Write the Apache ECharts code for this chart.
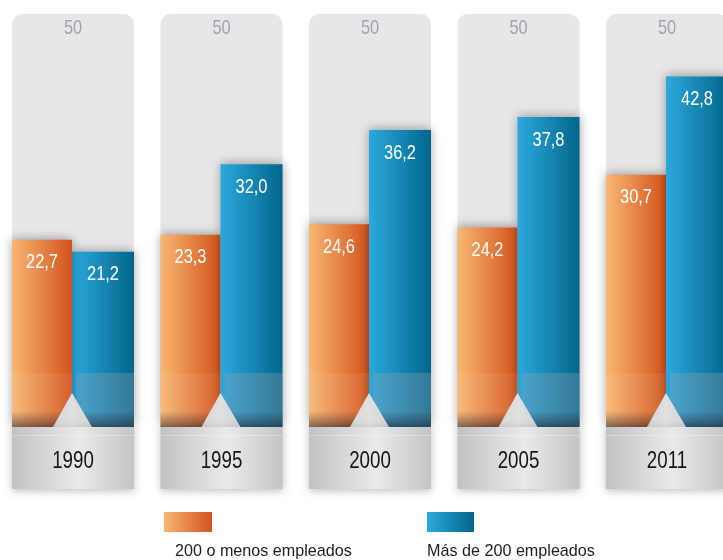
<!DOCTYPE html>
<html>
<head>
<meta charset="utf-8">
<script src="https://cdn.jsdelivr.net/npm/echarts@6/dist/echarts.min.js"></script>
<style>
  html, body { margin: 0; padding: 0; background: #fff; }
  #chart { width: 723px; height: 560px; }
</style>
</head>
<body>
<div id="chart"></div>
<script>
// datos
const years = ['1990', '1995', '2000', '2005', '2011']
const menos200 = [22.7, 23.3, 24.6, 24.2, 30.7]
const mas200 = [21.2, 32.0, 36.2, 37.8, 42.8]
const tope = [50, 50, 50, 50, 50]
const legendNames = ['200 o menos empleados', 'Más de 200 empleados']

const FONT = '"Liberation Sans", Arial, sans-serif'

const fmt = v => v.toFixed(1).replace('.', ',')

const orangeGrad = new echarts.graphic.LinearGradient(0, 0, 1, 0, [
  { offset: 0, color: '#f8b772' },
  { offset: 1, color: '#d3531b' }
])
const blueGrad = new echarts.graphic.LinearGradient(0, 0, 1, 0, [
  { offset: 0, color: '#2ba9de' },
  { offset: 1, color: '#02668a' }
])

// texto estrecho (condensado) con escala horizontal
function narrow (x, y, text, size, color, scale, align) {
  return {
    type: 'text', x: x, y: y, scaleX: scale, scaleY: 1,
    style: { x: 0, y: 0, text: text, align: align || 'center', verticalAlign: 'middle', fill: color, font: size + 'px ' + FONT }
  }
}

const chart = echarts.init(document.getElementById('chart'))

function renderItem (params, api) {
  const i = params.dataIndex
  const base = api.coord([i, 0])
  const cx = base[0]
  const y0 = base[1]
  const yTop = api.coord([i, api.value(3)])[1]
  const yM = api.coord([i, api.value(1)])[1]
  const yB = api.coord([i, api.value(2)])[1]
  const half = 61
  const bottom = y0 + 3

  const bars = [
    { type: 'rect', shape: { x: cx - half, y: yM, width: 60, height: bottom - yM },
      style: { fill: orangeGrad, shadowBlur: 10, shadowColor: 'rgba(0,0,0,0.35)', shadowOffsetY: -1 } },
    { type: 'rect', shape: { x: cx - 1, y: yB, width: 62, height: bottom - yB },
      style: { fill: blueGrad, shadowBlur: 10, shadowColor: 'rgba(0,0,0,0.35)', shadowOffsetY: -1 } }
  ]
  // la barra más alta se dibuja encima
  if (yM < yB) bars.reverse()

  return {
    type: 'group',
    children: [
      // panel gris de fondo
      { type: 'rect', shape: { x: cx - half, y: yTop - 4, width: half * 2, height: bottom - yTop + 4, r: [10, 10, 0, 0] },
        style: { fill: '#e6e7e9' } },
      narrow(cx, yTop + 10, String(api.value(3)), 21, '#a2a4a7', 0.78),
      ...bars,
      // velo inferior
      { type: 'rect', shape: { x: cx - half, y: y0 - 51, width: 60, height: bottom - (y0 - 51) },
        style: { fill: 'rgba(255,255,255,0.07)' } },
      { type: 'rect', shape: { x: cx + 3, y: y0 - 51, width: 58, height: bottom - (y0 - 51) },
        style: { fill: 'rgba(150,160,178,0.33)' } },
      { type: 'rect', shape: { x: cx - half, y: bottom - 16, width: half * 2, height: 16 },
        style: { fill: new echarts.graphic.LinearGradient(0, 0, 0, 1, [
          { offset: 0, color: 'rgba(30,25,35,0)' },
          { offset: 1, color: 'rgba(30,25,35,0.5)' }
        ]) } },
      // triángulo
      { type: 'polygon', shape: { points: [[cx - 1, y0 - 31], [cx - 20, bottom], [cx + 19, bottom]] },
        style: { fill: new echarts.graphic.LinearGradient(0, 0, 1, 0, [
          { offset: 0, color: '#d4d5d7' },
          { offset: 0.5, color: '#dfe0e2' },
          { offset: 1, color: '#d2d3d5' }
        ]) } },
      // caja del año
      { type: 'rect', shape: { x: cx - half, y: bottom, width: half * 2, height: 62 },
        style: { fill: new echarts.graphic.LinearGradient(0, 0, 1, 0, [
          { offset: 0, color: '#c1c2c4' },
          { offset: 0.55, color: '#e9eaeb' },
          { offset: 1, color: '#c3c4c6' }
        ]), shadowBlur: 8, shadowColor: 'rgba(0,0,0,0.25)', shadowOffsetY: 2 } },
      { type: 'rect', shape: { x: cx - half, y: bottom + 8, width: half * 2, height: 1 },
        style: { fill: 'rgba(255,255,255,0.3)' } },
      narrow(cx, bottom + 34, years[i], 24, '#161616', 0.78),
      // etiquetas de valor
      narrow(cx - 31, yM + 23, fmt(api.value(1)), 20, '#ffffff', 0.82),
      narrow(cx + 30, yB + 23, fmt(api.value(2)), 20, '#ffffff', 0.82)
    ]
  }
}

chart.setOption({
  animation: false,
  grid: { left: 0, right: 0, top: 18, bottom: 136 },
  // eje de valores para fijar el paso entre grupos (148,5 px)
  xAxis: { type: 'value', min: -0.4916, max: 4.3771, show: false },
  yAxis: { type: 'value', min: 0, max: 50, show: false },
  series: [{
    type: 'custom',
    clip: false,
    renderItem: renderItem,
    data: years.map((y, i) => [i, menos200[i], mas200[i], tope[i]])
  }],
  graphic: [
    { type: 'rect', shape: { x: 164, y: 512, width: 48, height: 20 }, style: { fill: orangeGrad } },
    { type: 'rect', shape: { x: 427, y: 512, width: 47, height: 20 }, style: { fill: blueGrad } },
    { type: 'text', x: 175, y: 551, scaleX: 0.95, style: { x: 0, y: 0, text: legendNames[0], verticalAlign: 'middle', fill: '#1e1e1e', font: '17px ' + FONT } },
    { type: 'text', x: 427, y: 551, scaleX: 0.95, style: { x: 0, y: 0, text: legendNames[1], verticalAlign: 'middle', fill: '#1e1e1e', font: '17px ' + FONT } }
  ]
})
</script>
</body>
</html>
